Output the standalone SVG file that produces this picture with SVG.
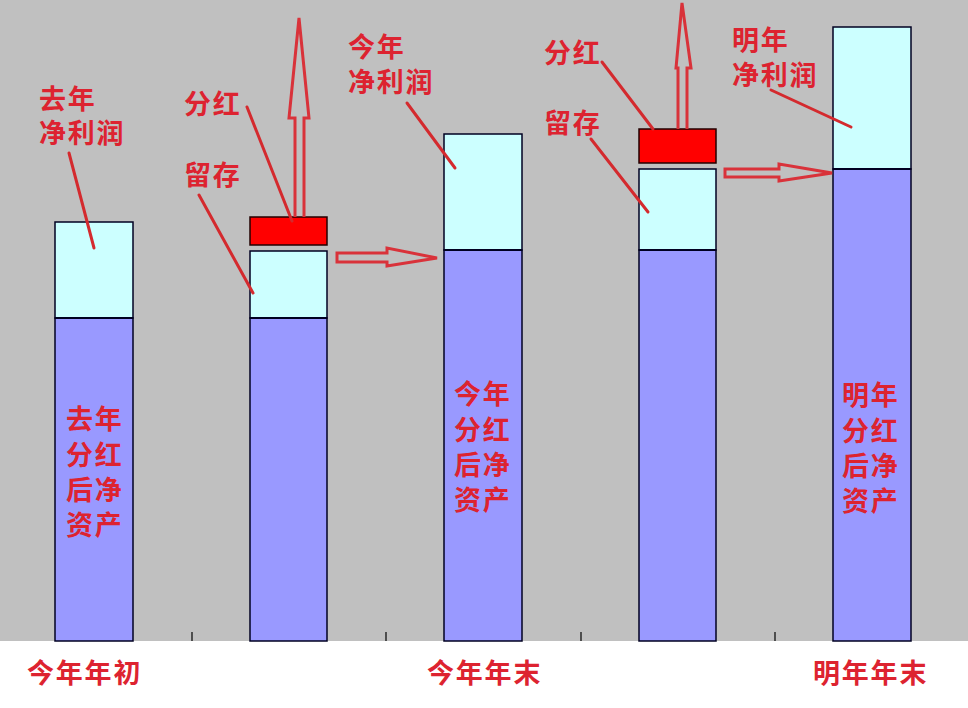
<svg xmlns="http://www.w3.org/2000/svg" width="968" height="708" viewBox="0 0 968 708">
<style>
.t{font-family:"Noto Sans CJK SC","Noto Sans",sans-serif;font-size:27px;font-weight:bold;fill:#dd2330;letter-spacing:1.8px}
.lo{fill:#9999ff;stroke:#000022;stroke-width:1.5}
.hi{fill:#ccffff;stroke:#000022;stroke-width:1.5}
.dv{fill:#ff0000;stroke:#220000;stroke-width:1.5}
.ld{stroke:#d42a2e;stroke-width:3;fill:none;stroke-linecap:round}
.ar{stroke:#d9323a;stroke-width:3;fill:none;stroke-linejoin:miter}
.tk{stroke:#000;stroke-width:1.2}
.sep{stroke:#000022;stroke-width:2.2}
</style>
<rect x="0" y="0" width="968" height="641" fill="#c0c0c0"/>
<rect x="0" y="641" width="968" height="67" fill="#ffffff"/>
<g id="ticks">
<line class="tk" x1="192" y1="632" x2="192" y2="641"/>
<line class="tk" x1="386" y1="632" x2="386" y2="641"/>
<line class="tk" x1="581" y1="632" x2="581" y2="641"/>
<line class="tk" x1="775" y1="632" x2="775" y2="641"/>
</g>
<g id="bar1">
<rect class="lo" x="55" y="318" width="78" height="323"/>
<rect class="hi" x="55" y="222" width="78" height="96"/>
<line class="sep" x1="55" y1="318" x2="133" y2="318"/>
<text class="t" x="66" y="429">去年</text>
<text class="t" x="66" y="465">分红</text>
<text class="t" x="66" y="500">后净</text>
<text class="t" x="66" y="535">资产</text>
</g>
<g id="bar2">
<rect class="lo" x="250" y="318" width="77" height="323"/>
<rect class="hi" x="250" y="251" width="77" height="67"/>
<line class="sep" x1="250" y1="318" x2="327" y2="318"/>
<rect class="dv" x="250" y="217" width="77" height="28"/>
</g>
<g id="bar3">
<rect class="lo" x="444" y="250" width="78" height="391"/>
<rect class="hi" x="444" y="134" width="78" height="116"/>
<line class="sep" x1="444" y1="250" x2="522" y2="250"/>
<text class="t" x="454" y="404">今年</text>
<text class="t" x="454" y="440">分红</text>
<text class="t" x="454" y="475">后净</text>
<text class="t" x="454" y="510">资产</text>
</g>
<g id="bar4">
<rect class="lo" x="639" y="250" width="77" height="391"/>
<rect class="hi" x="639" y="169" width="77" height="81"/>
<line class="sep" x1="639" y1="250" x2="716" y2="250"/>
<rect class="dv" x="639" y="129" width="77" height="34"/>
</g>
<g id="bar5">
<rect class="lo" x="833" y="169" width="78" height="472"/>
<rect class="hi" x="833" y="27" width="78" height="142"/>
<line class="sep" x1="833" y1="169" x2="911" y2="169"/>
<text class="t" x="842" y="405">明年</text>
<text class="t" x="842" y="441">分红</text>
<text class="t" x="842" y="476">后净</text>
<text class="t" x="842" y="511">资产</text>
</g>
<g id="labels">
<text class="t" x="39" y="109">去年</text>
<text class="t" x="39" y="143">净利润</text>
<text class="t" x="184" y="114">分红</text>
<text class="t" x="184" y="185">留存</text>
<text class="t" x="348" y="57">今年</text>
<text class="t" x="348" y="92">净利润</text>
<text class="t" x="544" y="63">分红</text>
<text class="t" x="544" y="133">留存</text>
<text class="t" x="732" y="50">明年</text>
<text class="t" x="732" y="85">净利润</text>
<text class="t" x="27" y="683">今年年初</text>
<text class="t" x="427" y="683">今年年末</text>
<text class="t" x="813" y="683">明年年末</text>
</g>
<g id="connectors">
<line class="ld" x1="69" y1="153" x2="94" y2="248"/>
<line class="ld" x1="247" y1="107" x2="292" y2="221"/>
<line class="ld" x1="199" y1="195" x2="253" y2="293"/>
<line class="ld" x1="407" y1="103" x2="455" y2="168"/>
<line class="ld" x1="602" y1="62" x2="653" y2="129"/>
<line class="ld" x1="591" y1="139" x2="648" y2="212"/>
<line class="ld" x1="771" y1="90" x2="851" y2="127"/>
<polyline class="ar" points="295,217 295,118 289,118 299,18 309,118 304,118 304,217"/>
<polyline class="ar" points="678,129 678,68 676,68 682,3 691,68 687,68 687,129"/>
<polygon class="ar" points="337,253 387,253 387,248 437,258 387,266 387,262 337,262"/>
<polygon class="ar" points="725,169 779,169 779,164 832,173 779,181 779,177 725,177"/>
</g>
</svg>
